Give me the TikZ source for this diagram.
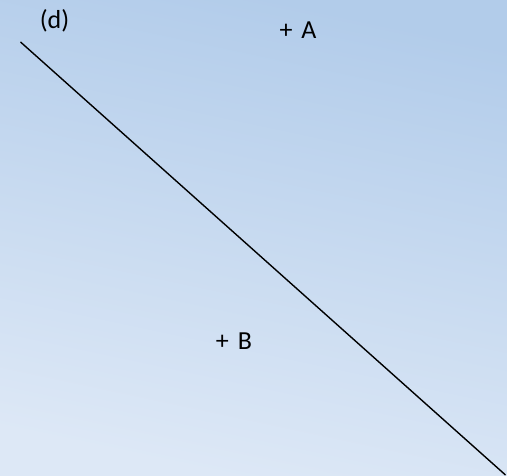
\documentclass[tikz,border=0pt]{standalone}
\usepackage{fontspec}
\setmainfont{Carlito}
\definecolor{skytop}{HTML}{B2CCEA}
\definecolor{skybottom}{HTML}{DDE8F6}
\begin{document}
\begin{tikzpicture}[x=1pt,y=-1pt,label/.style={font=\fontsize{26}{30}\selectfont,inner sep=0pt,anchor=base}]
 \shade[top color=skytop,bottom color=skybottom,shading angle=-12] (0,0) rectangle (507,476);
 \useasboundingbox (0,0) rectangle (507,476);
 \node[label] (d) at (54.5,28.5) {(d)};
 \node[label] (A) at (298,38.5) {+\hspace{0.12em} A};
 \node[label] (B) at (234,349.5) {+\hspace{0.12em} B};
 \coordinate (top) at (20.5,42);
 \coordinate (bot) at (505.5,475);
 \draw[line width=1.4pt] (top) -- (bot);
\end{tikzpicture}
\end{document}
